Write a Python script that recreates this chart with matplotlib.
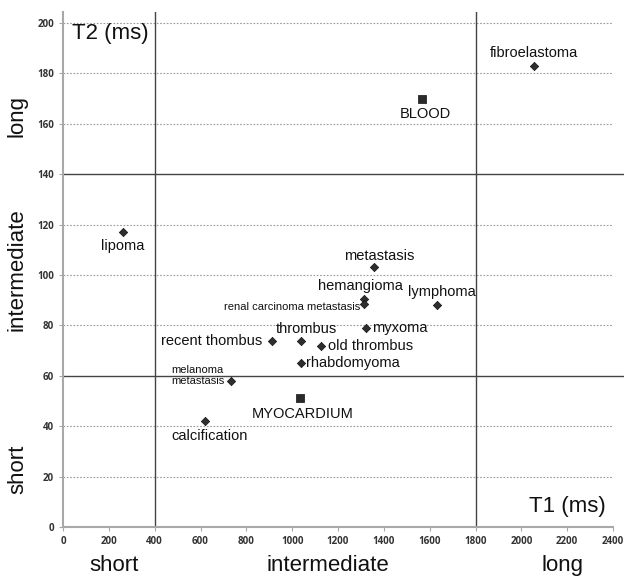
import numpy as np
import matplotlib
matplotlib.use("Agg")
import matplotlib.pyplot as plt
import matplotlib.transforms as mtransforms

plt.rcParams["font.family"] = ["Liberation Sans", "DejaVu Sans"]

# ── data (T1, T2 in ms) ──────────────────────────────────────────────────────
tumours = ["lipoma", "fibroelastoma", "metastasis", "hemangioma",
           "renal carcinoma metastasis", "lymphoma", "myxoma", "old thrombus",
           "rhabdomyoma", "thrombus", "recent thombus", "melanoma\nmetastasis",
           "calcification"]
tumour_t1 = [260, 2055, 1355, 1315, 1315, 1630, 1320, 1125, 1040, 1040, 910, 735, 620]
tumour_t2 = [117, 183, 103, 90.5, 88.5, 88, 79, 72, 65, 74, 74, 58, 42]

tissues = ["BLOOD", "MYOCARDIUM"]
tissue_t1 = [1565, 1035]
tissue_t2 = [170, 51]

x_ticks = list(range(0, 2401, 200))
y_ticks = list(range(0, 201, 20))
t1_bounds = [400, 1800]
t2_bounds = [60, 140]
x_classes = ["short", "intermediate", "long"]
y_classes = ["short", "intermediate", "long"]

# label placement: (dx, dy) in points, ha, fontsize
label_pos = {
    "lipoma": (0, -10, "center", 10.5),
    "fibroelastoma": (0, 9, "center", 10.5),
    "metastasis": (4, 8, "center", 10.5),
    "hemangioma": (-3, 9, "center", 10.5),
    "renal carcinoma metastasis": (-3, -2, "right", 8),
    "lymphoma": (4, 9.5, "center", 10.5),
    "myxoma": (5, 0, "left", 10.5),
    "old thrombus": (5.5, 0, "left", 10.5),
    "rhabdomyoma": (3.5, 0, "left", 10.5),
    "thrombus": (3.5, 8.5, "center", 10.5),
    "recent thombus": (-6.5, 0, "right", 10.5),
    "melanoma\nmetastasis": (-43, 4, "left", 8),
    "calcification": (3, -10.5, "center", 10.5),
    "BLOOD": (3, -11, "center", 10.5),
    "MYOCARDIUM": (2, -11.5, "center", 10.5),
}

# ── plot ─────────────────────────────────────────────────────────────────────
fig = plt.figure(figsize=(6.24, 5.77), dpi=100)
ax = fig.add_axes([63 / 624, 1 - 527 / 577, 550 / 624, 515 / 577])
ax.set_xlim(0, 2400)
ax.set_ylim(0, 515 / 2.52)

# dotted grid
for y in y_ticks[1:]:
    if y in t2_bounds:
        continue
    ax.plot([0, 2400], [y, y], color="#9a9a9a", lw=0.8, ls=(0, (1.5, 1.5)), zorder=1)

# class boundaries
for y in t2_bounds:
    ax.plot([0, 2448], [y, y], color="#444444", lw=1.0, zorder=2, clip_on=False)
for x in t1_bounds:
    ax.axvline(x, color="#444444", lw=1.0, zorder=2)

ax.scatter(tumour_t1, tumour_t2, marker="D", s=18, color="#2e2e2e",
           edgecolors="#111111", linewidths=0.5, zorder=3)
ax.scatter(tissue_t1, tissue_t2, marker="s", s=38, color="#2a2a2a",
           edgecolors="#111111", linewidths=0.5, zorder=3)

for name, x, y in list(zip(tumours, tumour_t1, tumour_t2)) + list(zip(tissues, tissue_t1, tissue_t2)):
    dx, dy, ha, fs = label_pos[name]
    ax.annotate(name, (x, y), xytext=(dx, dy), textcoords="offset points",
                ha=ha, va="center", fontsize=fs, color="#111111",
                multialignment="left", linespacing=1.15, zorder=4)

# axes styling
for side in ["top", "right"]:
    ax.spines[side].set_visible(False)
for side in ["left", "bottom"]:
    ax.spines[side].set_color("#a8a8a8")
    ax.spines[side].set_linewidth(1.5)
ax.set_xticks(x_ticks)
ax.set_yticks(y_ticks)
ax.tick_params(axis="both", colors="#a8a8a8", length=3, width=0.8,
               labelsize=7, labelcolor="#333333")
for lab in ax.get_xticklabels() + ax.get_yticklabels():
    lab.set_fontweight("bold")
    lab.set_family(["Open Sans", "DejaVu Sans"])

ax.text(40, 196, "T2 (ms)", fontsize=16, ha="left", va="center", color="#111111")
ax.text(2370, 8, "T1 (ms)", fontsize=16, ha="right", va="center", color="#111111")

# class labels along the axes
tx = mtransforms.blended_transform_factory(ax.transData, ax.transAxes)
for label, x in zip(x_classes, [222, 1157, 2181]):
    ax.text(x, -0.0757, label, transform=tx, fontsize=16, ha="center", va="center",
            color="#111111")
ty = mtransforms.blended_transform_factory(ax.transAxes, ax.transData)
for label, y in zip(y_classes, [23, 102, 163]):
    ax.text(-0.083, y, label, transform=ty, fontsize=16, ha="center", va="center",
            rotation=90, color="#111111")

fig.savefig("out.png", dpi=100)
